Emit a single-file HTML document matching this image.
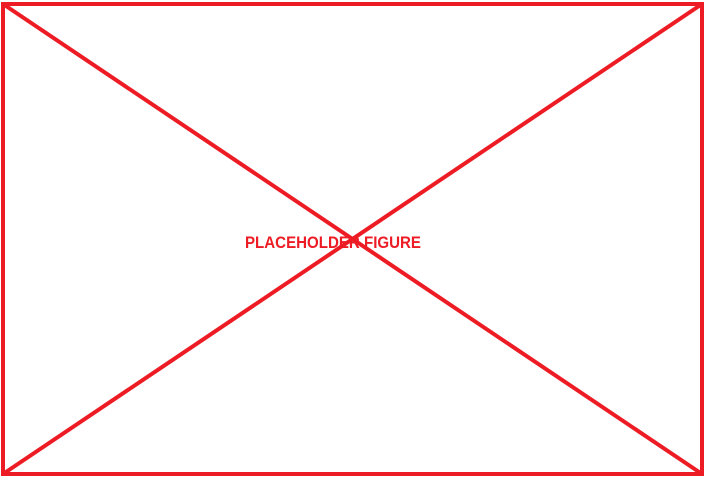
<!DOCTYPE html>
<html><head><meta charset="utf-8"><style>
html,body{margin:0;padding:0;background:#fff;width:705px;height:479px;overflow:hidden}
</style></head><body>
<svg width="705" height="479" viewBox="0 0 705 479">
<rect x="3" y="4" width="699" height="470" fill="#fff" stroke="#ed1c24" stroke-width="4"/>
<line x1="3" y1="4" x2="702" y2="474" stroke="#ed1c24" stroke-width="4"/>
<line x1="3" y1="474" x2="702" y2="4" stroke="#ed1c24" stroke-width="4"/>
<text x="245" y="248" font-family="Liberation Sans, sans-serif" font-weight="bold" font-size="17" fill="#ed1c24" textLength="176" lengthAdjust="spacingAndGlyphs">PLACEHOLDER FIGURE</text>
</svg>
</body></html>
